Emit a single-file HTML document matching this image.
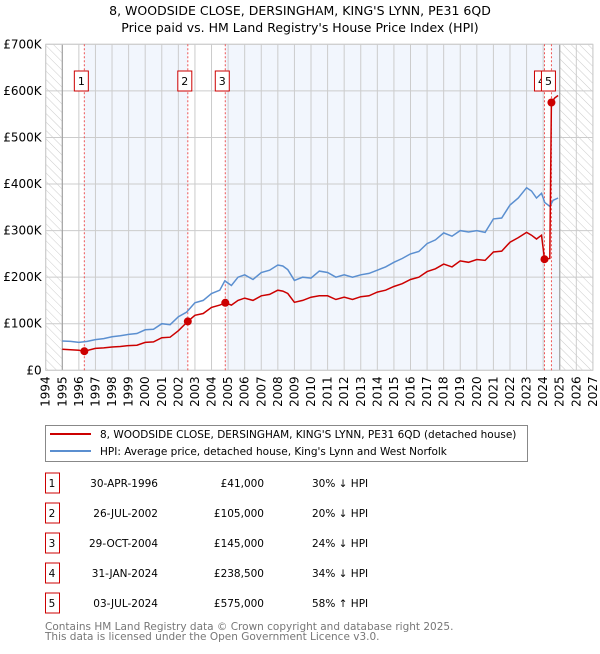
<!DOCTYPE html>
<html><head><meta charset="utf-8"><style>
body{margin:0;background:#fff;width:600px;height:650px;overflow:hidden;font-family:"DejaVu Sans","Liberation Sans",sans-serif;}
svg text{font-family:"DejaVu Sans","Liberation Sans",sans-serif;}
</style></head><body>
<svg id="chart" width="600" height="650" xmlns="http://www.w3.org/2000/svg">
<defs><pattern id="hatch" width="6" height="6" patternUnits="userSpaceOnUse" patternTransform="rotate(-45)"><rect width="6" height="6" fill="#fff"/><line x1="0" y1="0" x2="0" y2="6" stroke="#ccc" stroke-width="1"/></pattern></defs>
<text x="300" y="15" text-anchor="middle" font-size="12.5">8, WOODSIDE CLOSE, DERSINGHAM, KING'S LYNN, PE31 6QD</text>
<text x="300" y="32" text-anchor="middle" font-size="12.5">Price paid vs. HM Land Registry's House Price Index (HPI)</text>
<g id="plot"></g>
<rect x="45.5" y="425.5" width="482" height="36" fill="#fff" stroke="#888"/>
<line x1="50" y1="434" x2="91" y2="434" stroke="#cc0000" stroke-width="2"/>
<text x="100" y="438" font-size="10.5">8, WOODSIDE CLOSE, DERSINGHAM, KING'S LYNN, PE31 6QD (detached house)</text>
<line x1="50" y1="451" x2="91" y2="451" stroke="#5b8fd0" stroke-width="2"/>
<text x="100" y="455" font-size="10.5">HPI: Average price, detached house, King's Lynn and West Norfolk</text>
<g id="table"></g>
<text x="45" y="630" font-size="10.5" fill="#777">Contains HM Land Registry data © Crown copyright and database right 2025.</text>
<text x="45" y="640" font-size="10.5" fill="#777">This data is licensed under the Open Government Licence v3.0.</text>
</svg>
<script>
const yearTicks=[1994,1995,1996,1997,1998,1999,2000,2001,2002,2003,2004,2005,2006,2007,2008,2009,2010,2011,2012,2013,2014,2015,2016,2017,2018,2019,2020,2021,2022,2023,2024,2025,2026,2027];
const priceTicks=[0,100,200,300,400,500,600,700];
const priceLabels=["£0","£100K","£200K","£300K","£400K","£500K","£600K","£700K"];
const hpiYears=[1995,1995.5,1996,1996.5,1997,1997.5,1998,1998.5,1999,1999.5,2000,2000.5,2001,2001.5,2002,2002.5,2003,2003.5,2004,2004.5,2004.8,2005.2,2005.6,2006,2006.5,2007,2007.5,2008,2008.3,2008.6,2009,2009.5,2010,2010.5,2011,2011.5,2012,2012.5,2013,2013.5,2014,2014.5,2015,2015.5,2016,2016.5,2017,2017.5,2018,2018.5,2019,2019.5,2020,2020.5,2021,2021.5,2022,2022.5,2023,2023.3,2023.6,2023.9,2024.1,2024.4,2024.6,2024.9];
const hpiValues=[63,62,60,62,66,68,72,74,77,79,87,88,100,98,115,125,145,150,165,172,192,182,200,205,195,210,215,226,224,216,193,200,198,213,210,200,205,200,205,208,215,222,232,240,250,255,272,280,295,288,300,297,300,296,325,327,355,370,392,385,370,380,360,352,365,370];
const ppYears=[1995,1995.5,1996,1996.33,1997,1997.5,1998,1998.5,1999,1999.5,2000,2000.5,2001,2001.5,2002,2002.57,2003,2003.5,2004,2004.5,2004.83,2005.2,2005.6,2006,2006.5,2007,2007.5,2008,2008.3,2008.6,2009,2009.5,2010,2010.5,2011,2011.5,2012,2012.5,2013,2013.5,2014,2014.5,2015,2015.5,2016,2016.5,2017,2017.5,2018,2018.5,2019,2019.5,2020,2020.5,2021,2021.5,2022,2022.5,2023,2023.3,2023.6,2023.9,2024.08,2024.4,2024.5,2024.7,2024.9];
const ppValues=[45,44,43,41,47,48,50,51,53,54,60,61,70,71,85,105,118,122,135,140,145,140,150,155,150,160,163,172,170,165,146,150,157,160,160,152,157,152,158,160,168,172,180,186,195,200,212,218,228,222,235,232,238,236,254,256,275,285,296,290,282,290,238.5,240,575,585,590];
const saleLabels=["1","2","3","4","5"];
const saleYears=[1996.33,2002.57,2004.83,2024.08,2024.5];
const saleValues=[41,105,145,238.5,575];
const saleDates=["30-APR-1996","26-JUL-2002","29-OCT-2004","31-JAN-2024","03-JUL-2024"];
const salePrices=["£41,000","£105,000","£145,000","£238,500","£575,000"];
const saleHpi=["30% ↓ HPI","20% ↓ HPI","24% ↓ HPI","34% ↓ HPI","58% ↑ HPI"];

const NS="http://www.w3.org/2000/svg";
const X0=45.7,X1=592.9,Y0=370.3,Y1=44.3;
const xs=y=>X0+(y-1994)/(2027-1994)*(X1-X0);
const ys=v=>Y0-v/700*(Y0-Y1);
const plot=document.getElementById('plot');
function mk(tag,attrs,parent){const e=document.createElementNS(NS,tag);for(const k in attrs)e.setAttribute(k,attrs[k]);(parent||plot).appendChild(e);return e;}

mk('rect',{x:X0,y:Y1,width:X1-X0,height:Y0-Y1,fill:'#fff'});
const bands=[[saleYears[0],saleYears[1]],[saleYears[2],saleYears[3]],[saleYears[4],2025]];
bands.forEach(b=>{const r=mk('rect',{x:xs(b[0]),y:Y1,width:xs(b[1])-xs(b[0]),height:Y0-Y1,fill:'#f2f6fd'});

});
const h1=mk('rect',{x:X0,y:Y1,width:xs(1995)-X0,height:Y0-Y1,fill:'url(#hatch)'});


const h2=mk('rect',{x:xs(2025),y:Y1,width:X1-xs(2025),height:Y0-Y1,fill:'url(#hatch)'});


yearTicks.forEach(y=>{mk('line',{x1:xs(y),x2:xs(y),y1:Y1,y2:Y0,stroke:'#ccc','stroke-width':1});
const t=mk('text',{x:0,y:0,'font-size':12,'text-anchor':'end',transform:`translate(${xs(y)+4},${Y0+6}) rotate(-90)`});
t.textContent=y;

});
priceTicks.forEach((v,i)=>{mk('line',{x1:X0,x2:X1,y1:ys(v),y2:ys(v),stroke:'#ccc','stroke-width':1});
const t=mk('text',{x:X0-4,y:ys(v)+4,'font-size':12,'text-anchor':'end'});
t.textContent=priceLabels[i];

});
mk('line',{x1:xs(1995),x2:xs(1995),y1:Y1,y2:Y0,stroke:'#999','stroke-width':1});
mk('line',{x1:xs(2025),x2:xs(2025),y1:Y1,y2:Y0,stroke:'#999','stroke-width':1});
mk('rect',{x:X0,y:Y1,width:X1-X0,height:Y0-Y1,fill:'none',stroke:'#ccc'});
saleYears.forEach((y,i)=>{const l=mk('line',{x1:xs(y),x2:xs(y),y1:Y1,y2:Y0,stroke:'#e55','stroke-width':1,'stroke-dasharray':'2,2'});


const g=mk('g',{});


mk('rect',{x:xs(y)-10,y:71,width:14,height:20,fill:'#fff',stroke:'#cc0000'},g);
const t=mk('text',{x:xs(y)-3,y:85,'font-size':11,'text-anchor':'middle'},g);t.textContent=saleLabels[i];});
function path(xa,va){return xa.map((y,i)=>(i?'L':'M')+xs(y).toFixed(1)+','+ys(va[i]).toFixed(1)).join('');}
const hp=mk('path',{d:path(hpiYears,hpiValues),fill:'none',stroke:'#5b8fd0','stroke-width':1.5});


const pp=mk('path',{d:path(ppYears,ppValues),fill:'none',stroke:'#cc0000','stroke-width':1.5});


saleYears.forEach((y,i)=>{const c=mk('circle',{cx:xs(y),cy:ys(saleValues[i]),r:4,fill:'#cc0000'});

});
const tbl=document.getElementById('table');
saleLabels.forEach((s,i)=>{const cy=483+i*30;
const g=mk('g',{},tbl);


mk('rect',{x:45.5,y:cy-10,width:14,height:20,fill:'#fff',stroke:'#cc0000'},g);
let t=mk('text',{x:52,y:cy+4,'font-size':10.5,'text-anchor':'middle'},g);t.textContent=s;
t=mk('text',{x:158,y:cy+4,'font-size':10.5,'text-anchor':'end'},g);t.textContent=saleDates[i];
t=mk('text',{x:264,y:cy+4,'font-size':10.5,'text-anchor':'end'},g);t.textContent=salePrices[i];
t=mk('text',{x:312,y:cy+4,'font-size':10.5},g);t.textContent=saleHpi[i];});
</script>
</body></html>
